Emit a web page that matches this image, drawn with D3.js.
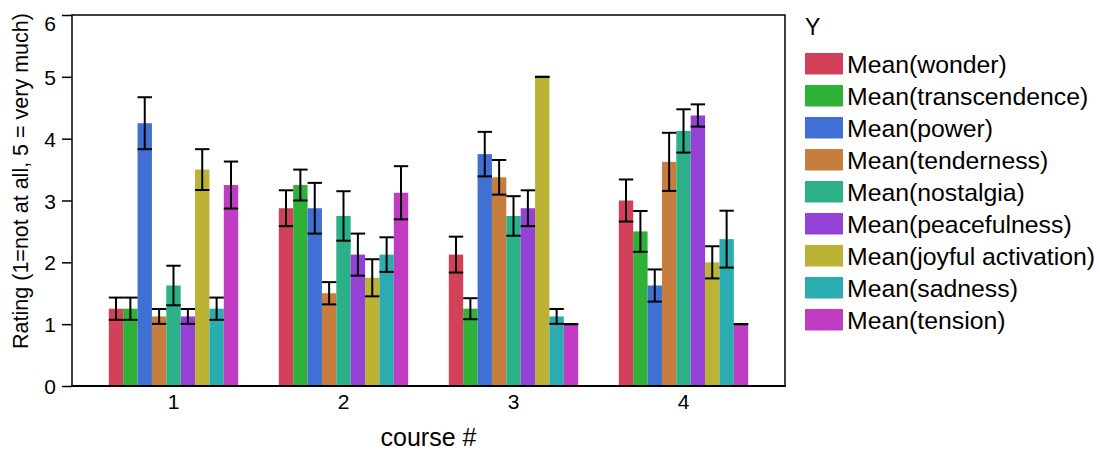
<!DOCTYPE html>
<html>
<head>
<meta charset="utf-8">
<script src="https://cdn.jsdelivr.net/npm/d3@7"></script>
<style>
  html, body { margin: 0; padding: 0; background: #fff; }
  svg { display: block; font-family: "Liberation Sans", Arial, Helvetica, sans-serif; }
</style>
</head>
<body>
<svg id="chart" width="1100" height="450"></svg>
<script>
// ---- data ----
const courses = ["1", "2", "3", "4"];
const seriesNames = ["Mean(wonder)", "Mean(transcendence)", "Mean(power)", "Mean(tenderness)",
  "Mean(nostalgia)", "Mean(peacefulness)", "Mean(joyful activation)", "Mean(sadness)", "Mean(tension)"];
const seriesColors = ["#D24059", "#2FB036", "#4070D4", "#C77D3D", "#2BB088", "#9441D5", "#BCB233", "#2BACB0", "#C03CC3"];
// means per series, one value per course
const wonder        = [1.25, 2.875, 2.125, 3.0];
const transcendence = [1.25, 3.25, 1.25, 2.5];
const power         = [4.25, 2.875, 3.75, 1.625];
const tenderness    = [1.125, 1.5, 3.375, 3.625];
const nostalgia     = [1.625, 2.75, 2.75, 4.125];
const peacefulness  = [1.125, 2.125, 2.875, 4.375];
const joyful        = [3.5, 1.75, 5.0, 2.0];
const sadness       = [1.25, 2.125, 1.125, 2.375];
const tension       = [3.25, 3.125, 1.0, 1.0];
// error bar half-widths per series, one per course
const errWonder        = [0.18, 0.29, 0.29, 0.34];
const errTranscendence = [0.18, 0.25, 0.17, 0.33];
const errPower         = [0.42, 0.41, 0.36, 0.26];
const errTenderness    = [0.12, 0.18, 0.28, 0.47];
const errNostalgia     = [0.32, 0.40, 0.32, 0.35];
const errPeacefulness  = [0.12, 0.34, 0.29, 0.18];
const errJoyful        = [0.33, 0.30, 0.0, 0.26];
const errSadness       = [0.18, 0.28, 0.12, 0.46];
const errTension       = [0.38, 0.43, 0.0, 0.0];
const yTicks = [0, 1, 2, 3, 4, 5, 6];
const yTitle = "Rating (1=not at all, 5 = very much)";
const xTitle = "course #";
const legendTitle = "Y";

const means = [wonder, transcendence, power, tenderness, nostalgia, peacefulness, joyful, sadness, tension];
const errs = [errWonder, errTranscendence, errPower, errTenderness, errNostalgia, errPeacefulness, errJoyful, errSadness, errTension];

const rows = [];
seriesNames.forEach((s, si) => {
  courses.forEach((c, ci) => {
    rows.push({ series: s, si, course: c, value: means[si][ci], err: errs[si][ci] });
  });
});

// ---- layout ----
const L = 72, R = 785, T = 15, B = 386;
const FONT = "Liberation Sans, Arial, sans-serif";
const svg = d3.select("#chart");

const x0 = d3.scaleBand().domain(courses).range([L, R]).paddingInner(0.239).paddingOuter(0.2165);
const x1 = d3.scaleBand().domain(seriesNames).range([0, x0.bandwidth()]).padding(0);
const y = d3.scaleLinear().domain([0, 6]).range([B, T]);
const color = d3.scaleOrdinal().domain(seriesNames).range(seriesColors);

// bars
svg.append("g").selectAll("rect").data(rows).join("rect")
  .attr("x", d => x0(d.course) + x1(d.series))
  .attr("y", d => y(d.value))
  .attr("width", x1.bandwidth())
  .attr("height", d => y(0) - y(d.value))
  .attr("fill", d => color(d.series));

// error bars
const eg = svg.append("g").attr("stroke", "#000").attr("stroke-width", 2);
rows.forEach(d => {
  const cx = x0(d.course) + x1(d.series) + x1.bandwidth() / 2;
  const hw = x1.bandwidth() / 2;
  const yt = y(d.value + d.err), yb = y(d.value - d.err);
  if (d.err > 0) {
    eg.append("line").attr("x1", cx).attr("x2", cx).attr("y1", yt).attr("y2", yb);
  }
  eg.append("line").attr("x1", cx - hw).attr("x2", cx + hw).attr("y1", yt).attr("y2", yt);
  eg.append("line").attr("x1", cx - hw).attr("x2", cx + hw).attr("y1", yb).attr("y2", yb);
});

// frame
svg.append("rect").attr("x", L).attr("y", T).attr("width", R - L).attr("height", B - T)
  .attr("fill", "none").attr("stroke", "#000").attr("stroke-width", 1.5);
svg.append("line").attr("x1", L - 1).attr("x2", R + 1).attr("y1", B).attr("y2", B)
  .attr("stroke", "#000").attr("stroke-width", 2);

// y axis
const yAxis = svg.append("g").attr("transform", `translate(${L},0)`)
  .call(d3.axisLeft(y).tickValues(yTicks).tickFormat(d3.format("d")).tickSize(10).tickPadding(6));
yAxis.attr("font-size", null).attr("font-family", null);
yAxis.select(".domain").remove();
yAxis.selectAll("line").attr("stroke", "#000").attr("stroke-width", 1.5);
yAxis.selectAll("text").style("font-size", "21px").style("font-family", FONT).attr("fill", "#000")
  .attr("dy", d => d === 6 ? "0.72em" : "0.36em");

// x axis labels
const xAxis = svg.append("g").attr("transform", `translate(0,${B})`)
  .call(d3.axisBottom(x0).tickSize(0).tickPadding(8));
xAxis.attr("font-size", null).attr("font-family", null);
xAxis.select(".domain").remove();
xAxis.selectAll("text").style("font-size", "21px").style("font-family", FONT).attr("fill", "#000")
  .attr("dy", "0.7em");

// axis titles
svg.append("text").attr("x", (L + R) / 2).attr("y", 446).attr("text-anchor", "middle")
  .style("font-size", "25px").attr("fill", "#000").text(xTitle);
svg.append("text").attr("transform", "translate(28,181) rotate(-90)").attr("text-anchor", "middle")
  .style("font-size", "21.5px").attr("fill", "#000").text(yTitle);

// legend
const lg = svg.append("g");
lg.append("text").attr("x", 805).attr("y", 35).style("font-size", "23px").attr("fill", "#000").text(legendTitle);
const item = lg.selectAll("g.item").data(seriesNames).join("g").attr("class", "item")
  .attr("transform", (d, i) => `translate(805,${53 + i * 32})`);
item.append("rect").attr("width", 38).attr("height", 21.5).attr("fill", d => color(d));
item.append("text").attr("x", 42).attr("y", 19.5).style("font-size", "24.8px").attr("fill", "#000").text(d => d);
</script>
</body>
</html>
